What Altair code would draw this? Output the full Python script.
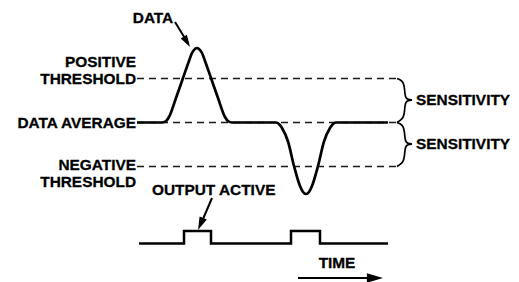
import altair as alt
import pandas as pd

# ---- data (time units across, amplitude units up: baseline 0, thresholds +1 / -1) ----
curve_t = [129, 154, 158, 161, 168, 175, 181, 184, 187, 189, 191, 194, 197, 203, 210, 217, 220, 224,
           268, 271, 274, 280, 286, 292, 295, 298, 301, 304, 310, 316, 322, 325, 328, 380]
curve_a = [0, 0, 0.034, 0.125, 0.557, 1.011, 1.398, 1.580, 1.670, 1.693, 1.670, 1.580, 1.398, 1.011, 0.557, 0.125, 0.034, 0,
           0, -0.034, -0.125, -0.432, -0.989, -1.443, -1.580, -1.625, -1.580, -1.443, -0.989, -0.432, -0.125, -0.034, 0, 0]

level_names = ["POSITIVE THRESHOLD", "DATA AVERAGE", "NEGATIVE THRESHOLD"]
level_values = [1.0, 0.0, -1.0]
level_start, level_end = 129, 389

out_t = [131, 176, 203, 283, 312, 380]
out_a = [-2.75, -2.466, -2.75, -2.466, -2.75, -2.75]

brace_t = [389, 393, 395.5, 396.5, 397, 398, 400, 404, 404, 404, 400, 398, 397, 396.5, 395.5, 393, 389]
brace_a = [1.0, 0.966, 0.898, 0.784, 0.625, 0.557, 0.523, 0.511, 0.511, 0.511, 0.5, 0.466, 0.398, 0.239, 0.125, 0.057, 0.0]
brace_shift = [0.0, -1.0]

right_labels = ["POSITIVE", "THRESHOLD", "DATA AVERAGE", "NEGATIVE", "THRESHOLD"]
right_t = [128, 128, 128, 128, 128]
right_a = [1.386, 1.0, 0.0, -0.966, -1.341]

left_labels = ["OUTPUT ACTIVE", "SENSITIVITY", "SENSITIVITY"]
left_t = [144, 408, 408]
left_a = [-1.534, 0.511, -0.489]

center_labels = ["DATA", "TIME"]
center_t = [145, 329]
center_a = [2.375, -3.193]

arrow_names = ["DATA", "OUTPUT ACTIVE", "TIME"]
arrow_t0 = [167, 204, 290]
arrow_a0 = [2.284, -1.716, -3.534]
arrow_t1 = [180, 195, 368]
arrow_a1 = [1.80, -2.193, -3.534]
arrow_tip_t = [182, 190, 375]
arrow_tip_a = [1.716, -2.443, -3.534]
arrow_angle = [149, 203.6, 90]
arrow_size = [144, 170, 260]

# ---- scales ----
W, H = 503, 280
X = alt.Scale(domain=[0, 503])
Y = alt.Scale(domain=[-3.7614, 2.6023])
FONT = "Liberation Sans"

curve_df = pd.DataFrame({"t": curve_t, "a": curve_a})
lev_df = pd.DataFrame({"name": level_names, "a": level_values,
                       "t0": [level_start] * 3, "t1": [level_end] * 3})
out_df = pd.DataFrame({"t": out_t, "a": out_a})
brace_rows = []
for b, s in enumerate(brace_shift):
    for i, (t, a) in enumerate(zip(brace_t, brace_a)):
        brace_rows.append({"b": b, "i": i, "t": t, "a": a + s})
brace_df = pd.DataFrame(brace_rows)
rl_df = pd.DataFrame({"label": right_labels, "t": right_t, "a": right_a})
ll_df = pd.DataFrame({"label": left_labels, "t": left_t, "a": left_a})
cl_df = pd.DataFrame({"label": center_labels, "t": center_t, "a": center_a})
arr_df = pd.DataFrame({"name": arrow_names, "t0": arrow_t0, "a0": arrow_a0,
                       "t1": arrow_t1, "a1": arrow_a1,
                       "tt": arrow_tip_t, "ta": arrow_tip_a,
                       "ang": arrow_angle, "sz": arrow_size})

levels = alt.Chart(lev_df).mark_rule(color="#1a1a1a", strokeWidth=1.5, strokeDash=[7, 5]).encode(
    x=alt.X("t0:Q", scale=X, axis=None), x2="t1:Q",
    y=alt.Y("a:Q", scale=Y, axis=None))

curve = alt.Chart(curve_df).mark_line(color="black", strokeWidth=2.7, interpolate="monotone").encode(
    x=alt.X("t:Q", scale=X, axis=None), y=alt.Y("a:Q", scale=Y, axis=None))

output = alt.Chart(out_df).mark_line(color="black", strokeWidth=2.5, interpolate="step-after").encode(
    x=alt.X("t:Q", scale=X, axis=None), y=alt.Y("a:Q", scale=Y, axis=None))

braces = alt.Chart(brace_df).mark_line(color="black", strokeWidth=1.7, interpolate="basis").encode(
    x=alt.X("t:Q", scale=X, axis=None), y=alt.Y("a:Q", scale=Y, axis=None),
    detail="b:N", order="i:Q")

shafts = alt.Chart(arr_df).mark_rule(color="black", strokeWidth=2).encode(
    x=alt.X("t0:Q", scale=X, axis=None), y=alt.Y("a0:Q", scale=Y, axis=None),
    x2="t1:Q", y2="a1:Q")

heads = alt.Chart(arr_df).mark_point(shape="M0,0L0.6,2L-0.6,2Z", filled=True, color="black",
                                     opacity=1, strokeWidth=0).encode(
    x=alt.X("tt:Q", scale=X, axis=None), y=alt.Y("ta:Q", scale=Y, axis=None),
    angle=alt.Angle("ang:Q", scale=None), size=alt.Size("sz:Q", scale=None))

def labels(df, align):
    return alt.Chart(df).mark_text(font=FONT, fontWeight="bold", fontSize=15.4, color="black",
                                   stroke="black", strokeWidth=0.3,
                                   align=align, baseline="middle").encode(
        x=alt.X("t:Q", scale=X, axis=None), y=alt.Y("a:Q", scale=Y, axis=None), text="label:N")

chart = alt.layer(levels, curve, output, braces, shafts, heads,
                  labels(rl_df, "right"), labels(ll_df, "left"), labels(cl_df, "center")).properties(
    width=W, height=H, padding=0, autosize=alt.AutoSizeParams(type="none")
).configure_view(stroke=None)

chart.save("out.html", embed_options={"renderer": "svg", "actions": False})
